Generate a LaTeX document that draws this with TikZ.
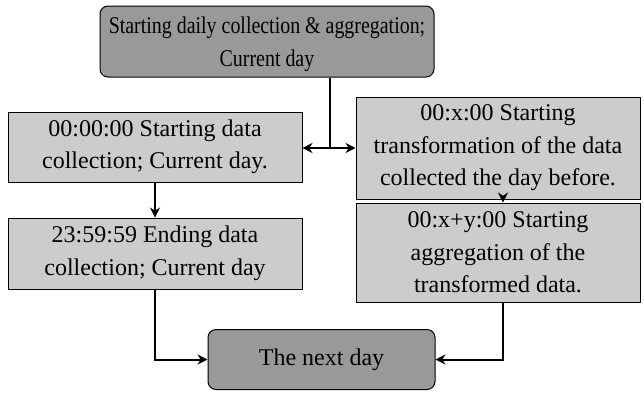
\documentclass[tikz,border=0pt]{standalone}
\usepackage{graphicx}
\usepackage{fontspec}
\setmainfont{Liberation Serif}
\usetikzlibrary{arrows.meta,positioning}
\definecolor{darkbox}{RGB}{153,153,153}
\definecolor{lightbox}{RGB}{204,204,204}
\newcommand{\narrowtext}[1]{\scalebox{0.83}[1]{#1}}
\tikzset{
  base/.style={draw=black, line width=0.5pt, align=center, inner sep=0pt,
    font=\fontsize{12}{16.25}\selectfont},
  roundbox/.style={base, fill=darkbox, rounded corners=4pt},
  plainbox/.style={base, fill=lightbox},
  conn/.style={line width=1pt, -{Stealth[length=5pt,width=5pt]}},
  connline/.style={line width=1pt}
}
\begin{document}
\begin{tikzpicture}[x=0.5pt,y=-0.5pt]
\useasboundingbox (0,0) rectangle (644,393);
\node[roundbox, minimum width=167pt, minimum height=35.5pt] (top) at (267,41.5)
  {\rule{0pt}{11.2pt}\narrowtext{Starting daily collection \& aggregation;}\\ \narrowtext{Current day}};
\node[plainbox, minimum width=147pt, minimum height=35pt] (l1) at (155,147)
  {00:00:00 Starting data\\ collection; Current day.};
\node[plainbox, minimum width=147pt, minimum height=35.5pt] (l2) at (155,253.5)
  {23:59:59 Ending data\\ collection; Current day};
\node[plainbox, minimum width=142pt, minimum height=51pt] (r1) at (498,148)
  {00:x:00 Starting\\ transformation of the data\\ collected the day before.};
\node[plainbox, minimum width=142pt, minimum height=49.5pt] (r2) at (498,252.5)
  {00:x+y:00 Starting\\ aggregation of the\\ transformed data.};
\node[roundbox, minimum width=113.5pt, minimum height=30pt] (b) at (321.5,359.5)
  {The next day};
\coordinate (j) at (330,148);
\coordinate (rx) at (503,0);
\draw[connline] (top.south -| j) -- (j);
\draw[conn] (j) -- (l1.east |- j);
\draw[conn] (j) -- (r1.west |- j);
\draw[conn] (l1.south) -- (l2.north);
\draw[conn] (r1.south -| rx) -- (r2.north -| rx);
\draw[conn] (l2.south) |- (b.west);
\draw[conn] (r2.south -| rx) |- (b.east);
\end{tikzpicture}
\end{document}
